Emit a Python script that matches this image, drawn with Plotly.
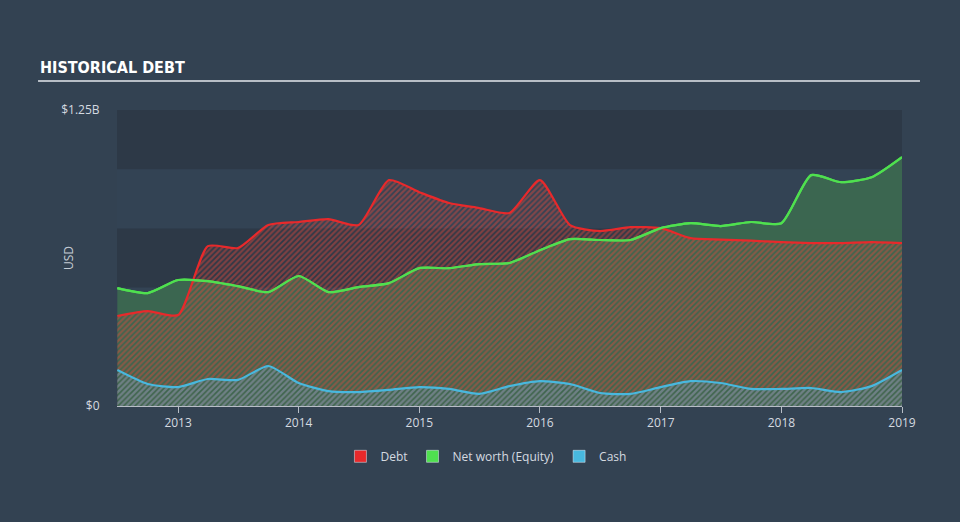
import plotly.graph_objects as go

dates = ["2012-07-01", "2012-10-01", "2013-01-01", "2013-04-01", "2013-07-01", "2013-10-01",
         "2014-01-01", "2014-04-01", "2014-07-01", "2014-10-01", "2015-01-01", "2015-04-01",
         "2015-07-01", "2015-10-01", "2016-01-01", "2016-04-01", "2016-07-01", "2016-10-01",
         "2017-01-01", "2017-04-01", "2017-07-01", "2017-10-01", "2018-01-01", "2018-04-01",
         "2018-07-01", "2018-10-01", "2019-01-01"]

debt = [380, 401, 384, 675, 667, 764, 777, 789, 764, 954, 903, 857,
        836, 815, 954, 764, 739, 755, 751, 709, 703, 698, 692, 688,
        688, 692, 688]
equity = [498, 477, 532, 527, 506, 481, 549, 481, 502, 519, 582, 582,
          599, 604, 658, 705, 701, 701, 751, 772, 760, 777, 772, 975,
          945, 966, 1051]
cash = [152, 93, 80, 114, 110, 169, 97, 63, 59, 68, 80, 72,
        51, 84, 105, 93, 55, 51, 80, 105, 97, 72, 72, 76,
        59, 84, 152]

scale = 1e6
debt_v = [v * scale for v in debt]
equity_v = [v * scale for v in equity]
cash_v = [v * scale for v in cash]

RED = "#e8292b"
GREEN = "#4fe04f"
BLUE = "#48b8de"
BG = "#334252"
DARK = "#2d3947"
LIGHT = "#334354"

line_kw = dict(width=2.2, shape="spline", smoothing=0.6)

fig = go.Figure()

# Equity solid fill
fig.add_trace(go.Scatter(x=dates, y=equity_v, mode="lines", fill="tozeroy",
                         fillcolor="rgba(60,104,80,0.95)",
                         line=dict(color=GREEN, **line_kw),
                         showlegend=False, hoverinfo="skip"))
# Debt hatched fill
fig.add_trace(go.Scatter(x=dates, y=debt_v, mode="lines", fill="tozeroy",
                         fillcolor="rgba(0,0,0,0)",
                         fillpattern=dict(shape="/", fgcolor="rgba(228,72,58,0.9)",
                                          bgcolor="rgba(0,0,0,0)", size=4, solidity=0.55),
                         line=dict(color=RED, **line_kw),
                         showlegend=False, hoverinfo="skip"))
# Cash hatched fill
fig.add_trace(go.Scatter(x=dates, y=cash_v, mode="lines", fill="tozeroy",
                         fillcolor="rgba(0,0,0,0)",
                         fillpattern=dict(shape="/", fgcolor="rgba(72,184,222,0.85)",
                                          bgcolor="rgba(0,0,0,0)", size=4, solidity=0.55),
                         line=dict(color=BLUE, **line_kw),
                         showlegend=False, hoverinfo="skip"))
# Equity line on top again
fig.add_trace(go.Scatter(x=dates, y=equity_v, mode="lines",
                         line=dict(color=GREEN, **line_kw),
                         showlegend=False, hoverinfo="skip"))

# Legend proxies
for name, col in [("Debt", RED), ("Net worth (Equity)", GREEN), ("Cash", BLUE)]:
    fig.add_trace(go.Bar(x=[None], y=[None], name=name, marker=dict(color=col)))

shapes = []
for y0, y1 in [(0, 0.25e9), (0.5e9, 0.75e9), (1.0e9, 1.25e9)]:
    shapes.append(dict(type="rect", xref="paper", yref="y", x0=0, x1=1, y0=y0, y1=y1,
                       fillcolor=DARK, line=dict(width=0), layer="below"))
shapes.append(dict(type="line", xref="paper", yref="paper", x0=-0.1006, x1=1.0229,
                   y0=1.098, y1=1.098, line=dict(color="#b8bec6", width=2)))

fig.update_layout(
    width=960, height=522,
    margin=dict(l=117, r=58, t=110, b=116),
    paper_bgcolor=BG, plot_bgcolor=LIGHT,
    font=dict(family="Open Sans, DejaVu Sans", color="#d5dae0", size=12),
    shapes=shapes,
    showlegend=True,
    legend=dict(orientation="h", x=0.47, xanchor="center", y=-0.17, yanchor="middle",
                font=dict(size=12, color="#d5dae0"), bgcolor="rgba(0,0,0,0)",
                traceorder="normal"),
    annotations=[
        dict(text="<b>HISTORICAL DEBT</b>", xref="paper", yref="paper", x=-0.1006, y=1.142,
             xanchor="left", yanchor="middle", showarrow=False,
             font=dict(family="DejaVu Sans Condensed, DejaVu Sans", size=16, color="#ffffff")),
        dict(text="USD", xref="paper", yref="paper", x=-0.0624, y=0.5, textangle=-90,
             xanchor="center", yanchor="middle", showarrow=False,
             font=dict(size=12, color="#c5ccd4")),
    ],
)

fig.update_xaxes(range=["2012-06-30", "2019-01-01"], showgrid=False, zeroline=False,
                 showline=True, linecolor="#b8bec6", linewidth=1,
                 ticks="outside", ticklen=6, tickcolor="#b8bec6",
                 tickvals=["2013-01-01", "2014-01-01", "2015-01-01", "2016-01-01",
                           "2017-01-01", "2018-01-01", "2019-01-01"],
                 ticktext=["2013", "2014", "2015", "2016", "2017", "2018", "2019"],
                 tickfont=dict(size=12, color="#d5dae0"))
fig.update_yaxes(range=[0, 1.25e9], showgrid=False, zeroline=False, showline=False,
                 tickvals=[0, 1.25e9], ticktext=["$0", "$1.25B"],
                 ticks="outside", ticklen=14, tickcolor="rgba(0,0,0,0)",
                 tickfont=dict(size=12, color="#d5dae0"))

fig.write_html("out.html")
